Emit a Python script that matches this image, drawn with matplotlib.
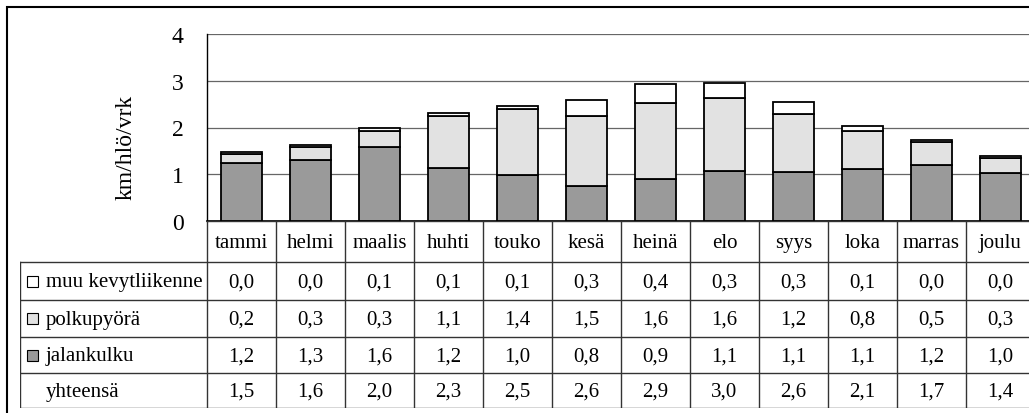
import matplotlib

matplotlib.use("Agg")
import matplotlib.pyplot as plt
from matplotlib.patches import Rectangle

plt.rcParams["font.family"] = ["Liberation Serif", "DejaVu Serif"]

# ---------------------------------------------------------------------------
# Data
# ---------------------------------------------------------------------------

months = ["tammi", "helmi", "maalis", "huhti", "touko", "kesä",
          "heinä", "elo", "syys", "loka", "marras", "joulu"]

# bar segment heights (km/hlö/vrk)
jalankulku = [1.24, 1.31, 1.59, 1.13, 0.99, 0.74, 0.90, 1.07, 1.05, 1.11, 1.20, 1.02]
polkupyora = [0.19, 0.28, 0.34, 1.12, 1.41, 1.51, 1.62, 1.57, 1.23, 0.82, 0.50, 0.32]
muu = [0.04, 0.04, 0.05, 0.07, 0.07, 0.34, 0.40, 0.31, 0.27, 0.11, 0.04, 0.04]

# values printed in the data table
tbl_muu = [0.0, 0.0, 0.1, 0.1, 0.1, 0.3, 0.4, 0.3, 0.3, 0.1, 0.0, 0.0]
tbl_polku = [0.2, 0.3, 0.3, 1.1, 1.4, 1.5, 1.6, 1.6, 1.2, 0.8, 0.5, 0.3]
tbl_jalan = [1.2, 1.3, 1.6, 1.2, 1.0, 0.8, 0.9, 1.1, 1.1, 1.1, 1.2, 1.0]
tbl_total = [1.5, 1.6, 2.0, 2.3, 2.5, 2.6, 2.9, 3.0, 2.6, 2.1, 1.7, 1.4]

series_names = ["muu kevytliikenne", "polkupyörä", "jalankulku", "yhteensä"]

C_DARK = "#9a9a9a"
C_LIGHT = "#e2e2e2"
C_WHITE = "#ffffff"
FS = 15

# ---------------------------------------------------------------------------
# Layout (pixel based, figure is 1029 x 414)
# ---------------------------------------------------------------------------
W, H = 1029, 414
fig = plt.figure(figsize=(W / 100, H / 100), dpi=100)

px_left, px_right = 207, 1035
px_top, px_zero = 35, 222
col_w = (px_right - px_left) / 12

ax = fig.add_axes([px_left / W, (H - px_zero) / H,
                   (px_right - px_left) / W, (px_zero - px_top) / H])

x = list(range(len(months)))
bottom2 = jalankulku
bottom3 = [a + b for a, b in zip(jalankulku, polkupyora)]
kw = dict(width=0.6, edgecolor="black", linewidth=1.3, zorder=3)
ax.bar(x, jalankulku, color=C_DARK, **kw)
ax.bar(x, polkupyora, bottom=bottom2, color=C_LIGHT, **kw)
ax.bar(x, muu, bottom=bottom3, color=C_WHITE, **kw)

ax.set_xlim(-0.5, 11.5)
ax.set_ylim(0, 4)
ax.set_yticks([0, 1, 2, 3, 4])
ax.set_xticks([])
ax.tick_params(axis="y", length=0, pad=17, labelsize=FS + 2)
ax.grid(True, axis="y", color="#666666", linewidth=0.9, zorder=0)
for s in ["top", "right"]:
    ax.spines[s].set_visible(False)
ax.spines["left"].set_linewidth(1.0)
ax.spines["bottom"].set_linewidth(1.2)
ax.set_ylabel("km/hlö/vrk", fontsize=FS + 2)
ax.yaxis.set_label_coords((137 - px_left) / (px_right - px_left),
                          (px_zero - 147) / (px_zero - px_top))

# ---------------------------------------------------------------------------
# Data table under the chart
# ---------------------------------------------------------------------------
tb_left, tb_bottom = 20, 409
tax = fig.add_axes([tb_left / W, (H - tb_bottom) / H,
                    (px_right - tb_left) / W, (tb_bottom - px_zero) / H])
tax.set_xlim(-0.5 - (px_left - tb_left) / col_w, 11.5)
tax.set_ylim(tb_bottom - px_zero, 0)
tax.axis("off")

row_edges = [0, 41, 79, 116, 152, 187]
x_lab = -0.5 - (px_left - tb_left) / col_w
lc = "#333333"

# horizontal lines
tax.plot([-0.5, 11.5], [row_edges[0]] * 2, color=lc, lw=1.0)
for yy in row_edges[1:]:
    tax.plot([x_lab, 11.5], [yy, yy], color=lc, lw=1.0)
# vertical lines
tax.plot([x_lab, x_lab], [row_edges[1], row_edges[-1]], color=lc, lw=1.0)
for i in range(13):
    tax.plot([i - 0.5, i - 0.5], [row_edges[0], row_edges[-1]], color=lc, lw=1.0)

# month header
mid = lambda r: (row_edges[r] + row_edges[r + 1]) / 2
for i, m in enumerate(months):
    tax.text(i, mid(0) + 1, m, ha="center", va="center", fontsize=FS)

rows = [tbl_muu, tbl_polku, tbl_jalan, tbl_total]
swatch = [C_WHITE, C_LIGHT, C_DARK, None]
for r, (name, vals, col) in enumerate(zip(series_names, rows, swatch), start=1):
    ym = mid(r)
    if col is not None:
        sq = 11 / col_w
        tax.add_patch(Rectangle((x_lab + 7 / col_w, ym - 5.5), sq, 11,
                                facecolor=col, edgecolor="black", lw=0.8))
    tax.text(x_lab + 26 / col_w, ym + 1, name, ha="left", va="center", fontsize=FS)
    for i, v in enumerate(vals):
        tax.text(i, ym + 1, f"{v:.1f}".replace(".", ","),
                 ha="center", va="center", fontsize=FS)

# outer chart border (right and bottom edges fall outside the image)
fig.patches.append(Rectangle((7 / W, -0.1), 1.2, (H - 8) / H + 0.1,
                             transform=fig.transFigure, fill=False,
                             edgecolor="black", linewidth=1.5))

fig.savefig("out.png", dpi=100)
plt.close(fig)
